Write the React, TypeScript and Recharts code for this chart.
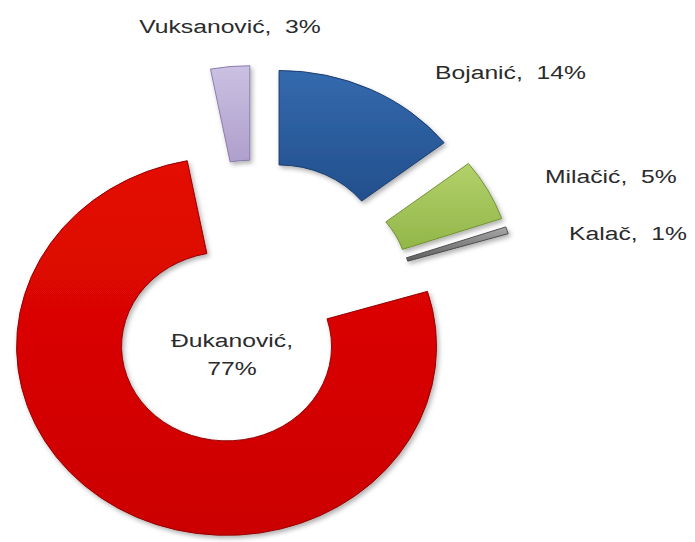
import { PieChart, Pie, Sector } from 'recharts';

// candidates, clockwise from 12 o'clock
const names = ['Bojanić', 'Milačić', 'Kalač', 'Đukanović', 'Vuksanović'];
const shares = [14.4, 5.3, 0.6, 76.7, 3.0];

const palette = [
  { top: '#336AAE', bottom: '#234F8C', edge: '#173A6A' },
  { top: '#B2D16A', bottom: '#93B649', edge: '#6F8E30' },
  { top: '#A8A8A8', bottom: '#5E5E5E', edge: '#4A4A4A' },
  { top: '#E30A06', bottom: '#CC0000', edge: '#8E0000' },
  { top: '#CBC1E2', bottom: '#AE9FCC', edge: '#8878A8' },
];

// where the text of each label sits (x, baseline, anchor)
const labelSpots = [
  { x: 435, y: 79, anchor: 'start' },
  { x: 545, y: 183, anchor: 'start' },
  { x: 569, y: 240, anchor: 'start' },
  { x: 232, y: 347, anchor: 'middle' },
  { x: 230, y: 33, anchor: 'middle' },
];

const data = names.map((name, i) => ({ name, value: shares[i] }));

const EXPLODE = 55;
const SQUASH = 0.9;
const STRETCH = 1.3;

const textStyle = {
  fontFamily: '"Liberation Sans", Arial, sans-serif',
  fontSize: 19,
  fill: '#2b2b2b',
  whiteSpace: 'pre' as const,
};

function renderSlice(props: any) {
  const { cx, cy, midAngle, innerRadius, outerRadius, startAngle, endAngle, index, percent, name } = props;
  const rad = (-midAngle * Math.PI) / 180;
  const ox = EXPLODE * Math.cos(rad);
  const oy = EXPLODE * Math.sin(rad) * SQUASH;
  const c = palette[index];
  const spot = labelSpots[index];
  const pct = Math.round(percent * 100);
  const twoLines = index === 3;

  return (
    <g>
      <g
        filter="url(#shadow)"
        transform={`translate(${ox},${oy}) translate(0,${cy}) scale(1,${SQUASH}) translate(0,${-cy})`}
      >
        <Sector
          cx={cx}
          cy={cy}
          innerRadius={innerRadius}
          outerRadius={outerRadius}
          startAngle={startAngle}
          endAngle={endAngle}
          fill={`url(#grad${index})`}
          stroke={c.edge}
          strokeWidth={1}
        />
      </g>
      <text
        x={spot.x}
        y={spot.y}
        textAnchor={spot.anchor as any}
        style={textStyle}
        transform={`translate(${spot.x},0) scale(${STRETCH},1) translate(${-spot.x},0)`}
      >
        {twoLines ? (
          <>
            <tspan x={spot.x} dy={0}>{`${name},`}</tspan>
            <tspan x={spot.x} dy={28}>{`${pct}%`}</tspan>
          </>
        ) : (
          `${name},  ${pct}%`
        )}
      </text>
    </g>
  );
}

export default function App() {
  return (
    <div style={{ position: 'absolute', left: 0, top: 0, width: 695, height: 542, background: '#fff' }}>
      <PieChart width={695} height={542} margin={{ top: 0, right: 0, bottom: 0, left: 0 }}>
        <defs>
          {palette.map((c, i) => (
            <linearGradient key={i} id={`grad${i}`} x1="0" y1="0" x2="0" y2="1">
              <stop offset="0%" stopColor={c.top} />
              <stop offset="100%" stopColor={c.bottom} />
            </linearGradient>
          ))}
          <filter id="shadow" x="-20%" y="-20%" width="140%" height="140%">
            <feDropShadow dx="2" dy="3" stdDeviation="2.5" floodColor="#000" floodOpacity="0.3" />
          </filter>
        </defs>
        <Pie
          data={data}
          dataKey="value"
          nameKey="name"
          cx={255}
          cy={304}
          innerRadius={105}
          outerRadius={210}
          startAngle={90}
          endAngle={-270}
          fill="none"
          stroke="none"
          label={renderSlice}
          labelLine={false}
          isAnimationActive={false}
        />
      </PieChart>
    </div>
  );
}
